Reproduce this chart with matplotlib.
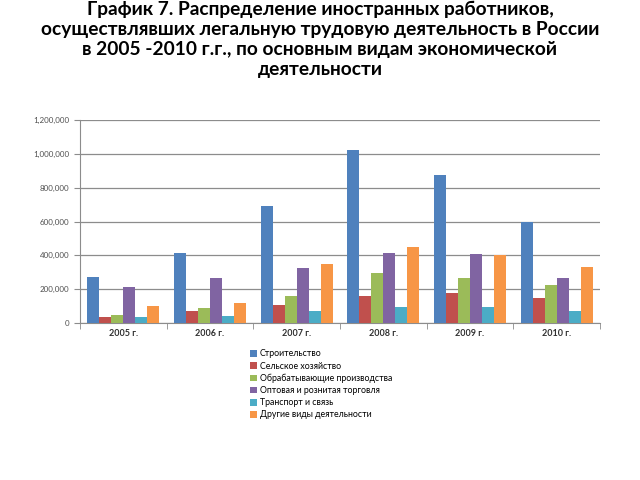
import matplotlib.pyplot as plt
import numpy as np

plt.rcParams["font.family"] = ["Lato", "DejaVu Sans"]

years = ["2005 г.", "2006 г.", "2007 г.", "2008 г.", "2009 г.", "2010 г."]

series_names = [
    "Строительство",
    "Сельское хозяйство",
    "Обрабатывающие производства",
    "Оптовая и рознитая торговля",
    "Транспорт и связь",
    "Другие виды деятельности",
]

construction = [272000, 415000, 692000, 1021000, 873000, 598000]
agriculture = [33000, 69000, 108000, 162000, 175000, 150000]
manufacturing = [49000, 89000, 158000, 293000, 264000, 222000]
trade = [215000, 268000, 327000, 412000, 406000, 269000]
transport = [33000, 43000, 73000, 94000, 94000, 69000]
other = [100000, 116000, 350000, 448000, 401000, 333000]

colors = ["#4F81BD", "#C0504D", "#9BBB59", "#8064A2", "#4BACC6", "#F79646"]

title_lines = [
    "График 7. Распределение иностранных работников,",
    "осуществлявших легальную трудовую деятельность в России",
    "в 2005 -2010 г.г., по основным видам экономической",
    "деятельности",
]

fig = plt.figure(figsize=(6.4, 4.8), dpi=100)
ax = fig.add_axes([0.125, 0.327, 0.8125, 0.423])

all_series = [construction, agriculture, manufacturing, trade, transport, other]
x = np.arange(len(years))
width = 0.138

for i, (name, vals) in enumerate(zip(series_names, all_series)):
    offset = (i - 2.5) * width
    ax.bar(
        x + offset,
        vals,
        width,
        color=colors[i],
        label=name,
        zorder=3
    )

ax.set_xlim(-0.5, len(years) - 0.5)
ax.set_ylim(0, 1200000)
ax.set_yticks(np.arange(0, 1200001, 200000))
ax.set_yticklabels([f"{v:,}" for v in range(0, 1200001, 200000)])
ax.yaxis.grid(True, color="#8c8c8c", linewidth=0.9, zorder=0)

ax.set_xticks(x)
ax.set_xticklabels(years, fontweight="bold")
ax.set_xticks(np.arange(-0.5, len(years)), minor=True)
ax.tick_params(axis="x", which="major", length=0, labelsize=6.5, pad=4,
               labelcolor="#303030")
ax.tick_params(axis="x", which="minor", length=4, color="#8c8c8c")
ax.tick_params(axis="y", length=4, color="#8c8c8c", labelsize=5.8,
               labelcolor="#505050")

for side in ["top", "right"]:
    ax.spines[side].set_visible(False)
for side in ["left", "bottom"]:
    ax.spines[side].set_color("#8c8c8c")

# first title line sits at the very top edge, as in the source slide
for k, line in enumerate(title_lines):
    fig.text(
        0.5,
        1 - (9 + 20.2 * k) / 480,
        line,
        ha="center",
        va="center",
        fontsize=13.8,
        fontweight="bold"
    )

fig.legend(
    loc="upper left",
    bbox_to_anchor=(246 / 640, 1 - 345 / 480),
    frameon=False,
    fontsize=6.3,
    handlelength=0.8,
    handleheight=0.8,
    handletextpad=0.3,
    labelspacing=0.36,
    borderpad=0
)

fig.savefig("out.png", dpi=100)
